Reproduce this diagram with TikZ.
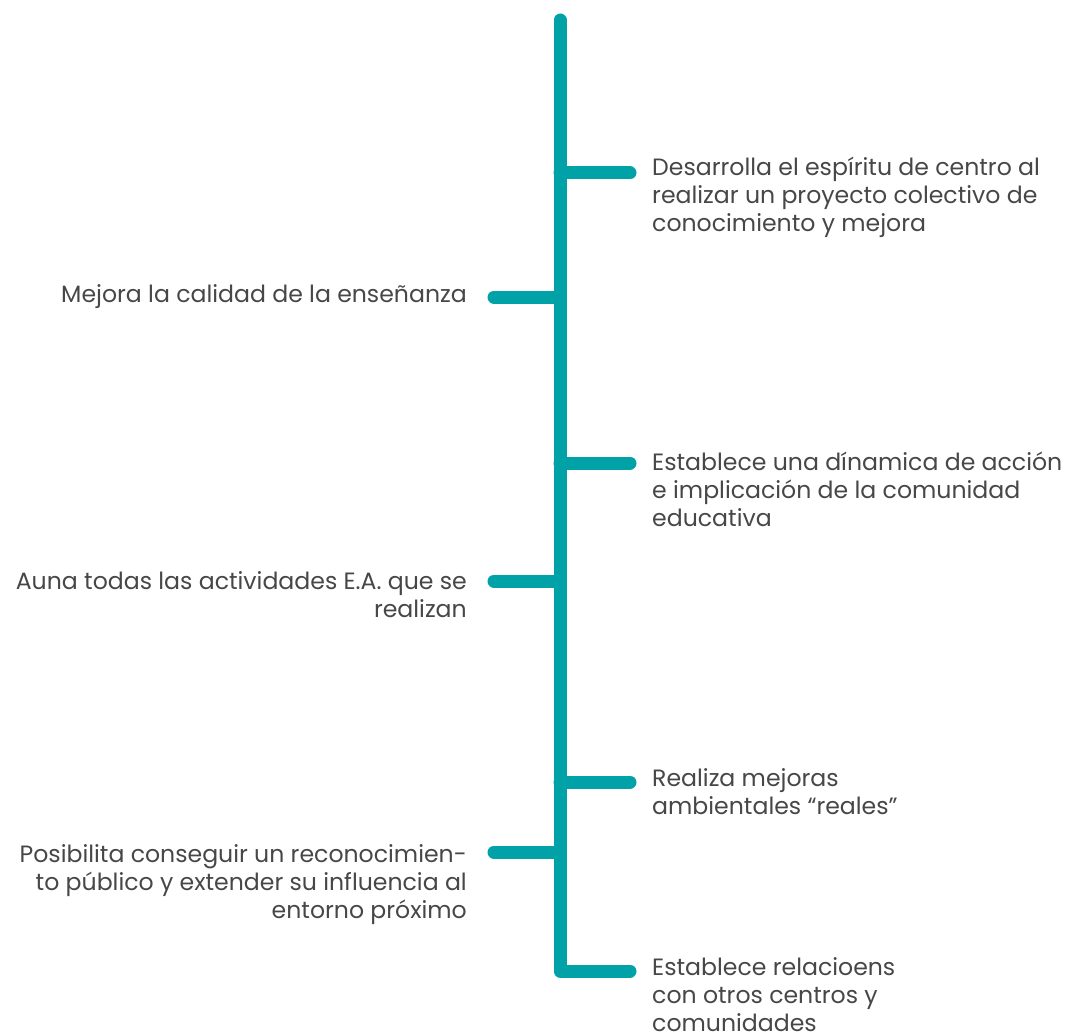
\documentclass[tikz,border=0pt]{standalone}
\usepackage{fontspec}
\setmainfont{Poppins}
\definecolor{teal1}{HTML}{00A2A8}
\definecolor{txt}{HTML}{474747}
\begin{document}
\begin{tikzpicture}[x=1pt,y=-1pt,
  bar/.style={draw=teal1,line width=13pt,line cap=round},
  lbl/.style={inner sep=0pt,text=txt,font=\fontsize{23.6}{28}\selectfont},
  rlbl/.style={lbl,anchor=base west,align=left},
  llbl/.style={lbl,anchor=base east,align=right}]
\useasboundingbox (0,0) rectangle (1065,1032);
\coordinate (top) at (560,20);
\coordinate (corner) at (560,971);
\coordinate (r1) at (630,173);
\coordinate (r2) at (630,463);
\coordinate (r3) at (630,782);
\coordinate (r4) at (630,971);
\coordinate (l1) at (494,297);
\coordinate (l2) at (494,581);
\coordinate (l3) at (494,852);
\coordinate (j1) at (560,173);
\coordinate (j2) at (560,463);
\coordinate (j3) at (560,782);
\coordinate (k1) at (560,297);
\coordinate (k2) at (560,581);
\coordinate (k3) at (560,852);
\draw[bar,line join=round] (top) -- (corner) -- (r4);
\draw[bar] (j1) -- (r1);
\draw[bar] (j2) -- (r2);
\draw[bar] (j3) -- (r3);
\draw[bar] (k1) -- (l1);
\draw[bar] (k2) -- (l2);
\draw[bar] (k3) -- (l3);
\node[rlbl] (t1) at (652,231.7) {Desarrolla el espíritu de centro al\\realizar un proyecto colectivo de\\conocimiento y mejora};
\node[llbl] (t2) at (467,302) {Mejora la calidad de la enseñanza};
\node[rlbl] (t3) at (652,526) {Establece una dínamica de acción\\e implicación de la comunidad\\educativa};
\node[llbl] (t4) at (467,617) {Auna todas las actividades E.A. que se\\realizan};
\node[rlbl] (t5) at (652,814) {Realiza mejoras\\ambientales “reales”};
\node[llbl] (t6) at (467,918) {Posibilita conseguir un reconocimien-\\to público y extender su influencia al\\entorno próximo};
\node[rlbl] (t7) at (652,1031) {Establece relacioens\\con otros centros y\\comunidades};
\end{tikzpicture}
\end{document}
